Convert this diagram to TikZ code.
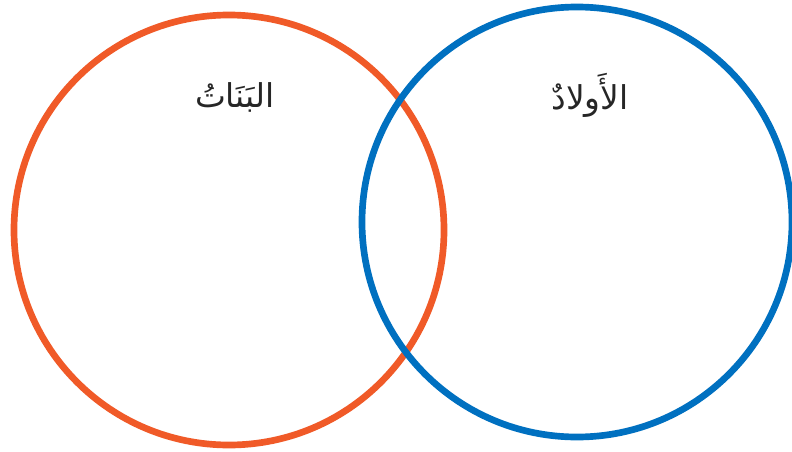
\documentclass[tikz,border=0pt]{standalone}
\usepackage{fontspec}
\newfontfamily\arabicfont[Script=Arabic]{DejaVu Sans}
\TeXXeTstate=1
\definecolor{girlorange}{HTML}{F05A28}
\definecolor{boyblue}{HTML}{0070C0}

\begin{document}
\begin{tikzpicture}[x=0.03cm, y=-0.03cm,
        setcircle/.style={circle, draw, line width=0.2cm, minimum size=12.9cm, inner sep=0pt, outer sep=0pt},
        setlabel/.style={font=\arabicfont\fontsize{28}{32}\selectfont, text=black!85}
    ]
    \useasboundingbox (0,0) rectangle (792,451);

    % المجموعتان
    \node[setcircle, draw=girlorange] (girls) at (229,230) {};
    \node[setcircle, draw=boyblue] (boys) at (577,222) {};

    % العناوين
    \node[setlabel] (girlslabel) at (235,97) {\beginR البَنَاتُ\endR};
    \node[setlabel] (boyslabel) at (590,95) {\beginR الأَولادٌ\endR};
\end{tikzpicture}
\end{document}
